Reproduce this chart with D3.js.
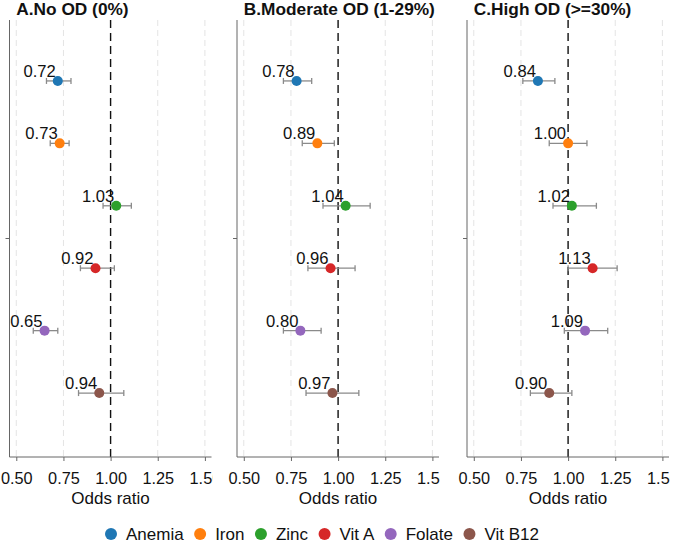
<!DOCTYPE html>
<html><head><meta charset="utf-8">
<script src="https://cdn.jsdelivr.net/npm/d3@7"></script>
<style>body{margin:0;background:#fff}svg{display:block;font-family:"Liberation Sans",Arial,sans-serif}</style>
</head><body><svg id="c" width="680" height="543"></svg>
<script>
const panels = ["A.No OD (0%)", "B.Moderate OD (1-29%)", "C.High OD (>=30%)"];
const nutrients = ["Anemia", "Iron", "Zinc", "Vit A", "Folate", "Vit B12"];
const colors = ["#1f77b4", "#ff7f0e", "#2ca02c", "#d62728", "#9467bd", "#8c564b"];
const ticks = [0.5, 0.75, 1.0, 1.25, 1.5];
const tickLabels = ["0.50", "0.75", "1.00", "1.25", "1.50"];
// odds ratios per panel (rows follow nutrients)
const orA = [0.72, 0.73, 1.03, 0.92, 0.65, 0.94];
const loA = [0.66, 0.68, 0.96, 0.84, 0.59, 0.83];
const hiA = [0.79, 0.78, 1.11, 1.02, 0.72, 1.07];
const orB = [0.78, 0.89, 1.04, 0.96, 0.80, 0.97];
const loB = [0.71, 0.81, 0.92, 0.84, 0.71, 0.83];
const hiB = [0.86, 0.98, 1.17, 1.09, 0.91, 1.11];
const orC = [0.84, 1.00, 1.02, 1.13, 1.09, 0.90];
const loC = [0.76, 0.90, 0.92, 1.00, 0.98, 0.80];
const hiC = [0.93, 1.10, 1.15, 1.26, 1.21, 1.02];
const panelData = [[orA, loA, hiA], [orB, loB, hiB], [orC, loC, hiC]];

const svg = d3.select("#c");
const x0s = [9.5, 237, 467];
const plotW = 202, plotTop = 20, plotBottom = 457;
const color = d3.scaleOrdinal().domain(nutrients).range(colors);
const y = d3.scalePoint().domain(nutrients).range([plotTop - 1.5, plotBottom - 1.5]).padding(1);

panels.forEach((title, pi) => {
  const x0 = x0s[pi];
  const x = d3.scaleLinear().domain([0.464, 1.535]).range([x0, x0 + plotW]);
  const g = svg.append("g");
  const clipId = "clip" + pi;
  svg.append("clipPath").attr("id", clipId).append("rect")
    .attr("x", x0 - 40).attr("y", -10).attr("width", plotW + 41).attr("height", 60);

  // grid
  g.selectAll(".grid").data(ticks.filter(t => t !== 1)).join("line")
    .attr("x1", d => x(d)).attr("x2", d => x(d)).attr("y1", plotTop).attr("y2", plotBottom)
    .attr("stroke", "#e4e4e4").attr("stroke-width", 1).attr("stroke-dasharray", "6,4");
  // reference line
  g.append("line").attr("x1", x(1)).attr("x2", x(1)).attr("y1", plotTop).attr("y2", plotBottom)
    .attr("stroke", "#111").attr("stroke-width", 1.4).attr("stroke-dasharray", "8,5");

  // axes
  const xa = g.append("g").attr("transform", `translate(0,${plotBottom})`).attr("clip-path", `url(#${clipId})`)
    .call(d3.axisBottom(x).tickValues(ticks).tickFormat((d, i) => tickLabels[i]).tickSize(4).tickSizeOuter(0));
  xa.select(".domain").attr("stroke", "#666").attr("d", `M${x0},0H${x0 + plotW}`);
  xa.selectAll(".tick line").attr("stroke", "#666");
  xa.selectAll(".tick text").attr("fill", "#111").attr("font-size", 16.3).attr("dy", "1.2em")
    .attr("font-family", "Liberation Sans, Arial, sans-serif");

  g.append("line").attr("x1", x0).attr("x2", x0).attr("y1", plotTop).attr("y2", plotBottom).attr("stroke", "#666");
  g.append("line").attr("x1", x0 - 4).attr("x2", x0).attr("y1", (plotTop + plotBottom) / 2).attr("y2", (plotTop + plotBottom) / 2).attr("stroke", "#666");

  // title
  g.append("text").attr("x", x(0.5)).attr("y", 15).attr("font-weight", "bold").attr("font-size", 17.3)
    .attr("fill", "#111").text(title);
  // axis title
  g.append("text").attr("x", x0 + plotW / 2).attr("y", 504).attr("text-anchor", "middle")
    .attr("font-size", 17).attr("fill", "#111").text("Odds ratio");

  const [orv, lov, hiv] = panelData[pi];
  const rows = nutrients.map((n, i) => ({n, or: orv[i], lo: lov[i], hi: hiv[i]}));
  const eb = g.selectAll(".eb").data(rows).join("g");
  eb.append("line").attr("x1", d => x(d.lo)).attr("x2", d => x(d.hi)).attr("y1", d => y(d.n)).attr("y2", d => y(d.n))
    .attr("stroke", "#8a8a8a").attr("stroke-width", 1.3);
  eb.append("line").attr("x1", d => x(d.lo)).attr("x2", d => x(d.lo)).attr("y1", d => y(d.n) - 3).attr("y2", d => y(d.n) + 3)
    .attr("stroke", "#8a8a8a").attr("stroke-width", 1.3);
  eb.append("line").attr("x1", d => x(d.hi)).attr("x2", d => x(d.hi)).attr("y1", d => y(d.n) - 3).attr("y2", d => y(d.n) + 3)
    .attr("stroke", "#8a8a8a").attr("stroke-width", 1.3);
  eb.append("circle").attr("cx", d => x(d.or)).attr("cy", d => y(d.n)).attr("r", 5).attr("fill", d => color(d.n));
  eb.append("text").attr("x", d => x(d.or) - 2).attr("y", d => y(d.n) - 4).attr("text-anchor", "end")
    .attr("font-size", 16.6).attr("fill", "#111").text(d => d.or.toFixed(2));
});

// legend
const lg = svg.append("g");
let cx = 111;
const ly = 534;
nutrients.forEach(n => {
  lg.append("circle").attr("cx", cx).attr("cy", ly).attr("r", 6).attr("fill", color(n));
  const t = lg.append("text").attr("x", cx + 15).attr("y", ly + 6).attr("font-size", 17).attr("fill", "#111").text(n);
  cx += 15 + t.node().getComputedTextLength() + 16.5;
});
</script></body></html>
